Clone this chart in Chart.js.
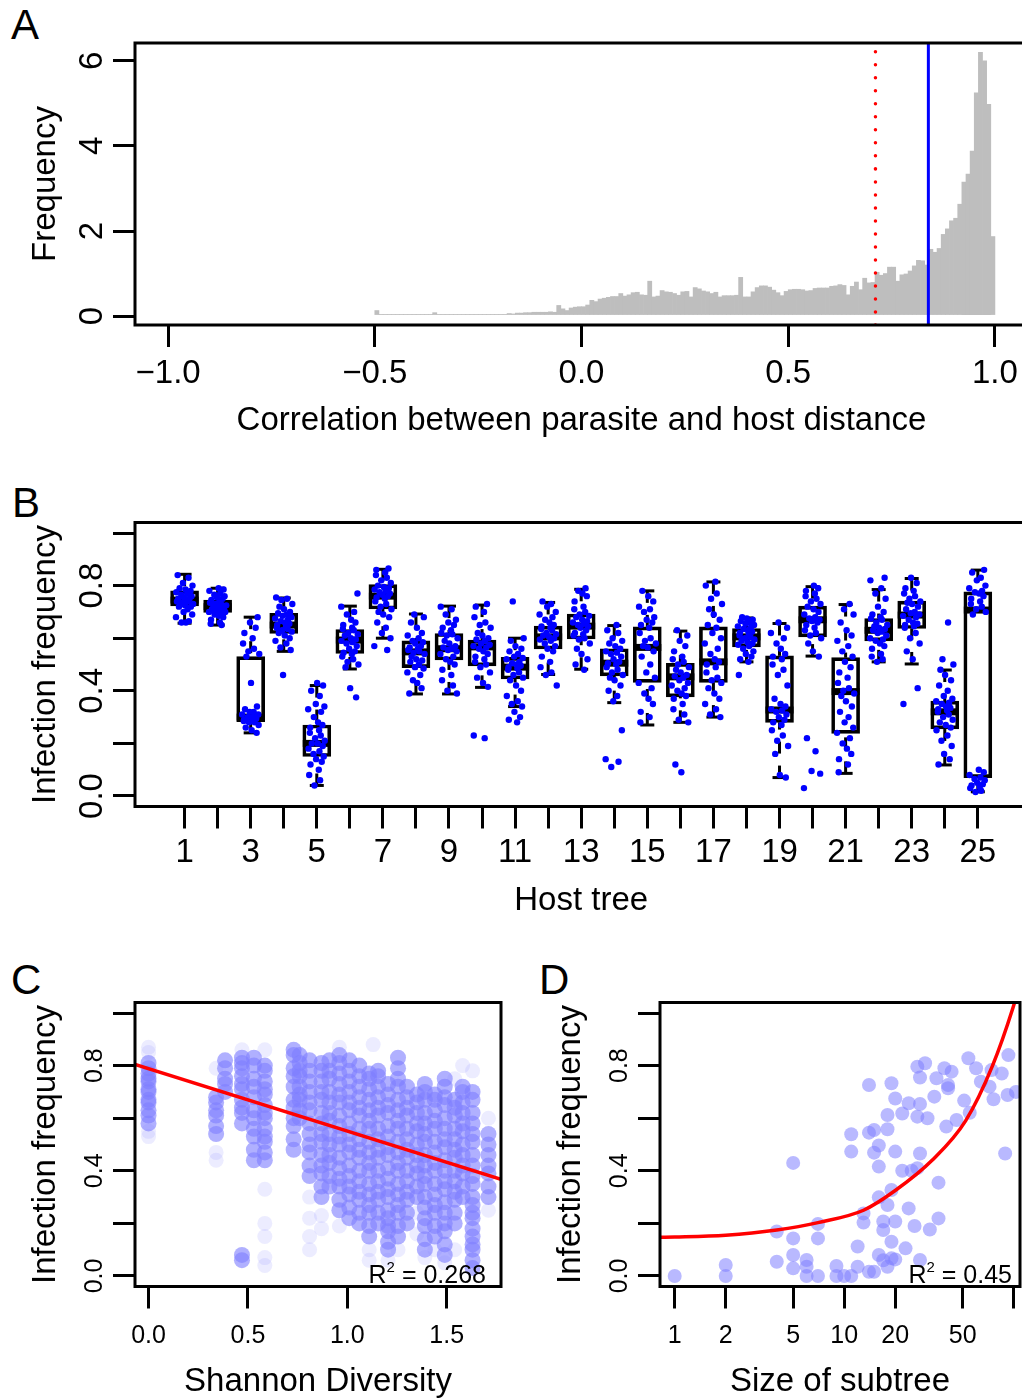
<!DOCTYPE html>
<html>
<head>
<meta charset="utf-8">
<script src="https://cdn.jsdelivr.net/npm/chart.js@4.4.1/dist/chart.umd.min.js"></script>
<style>
  html, body { margin: 0; padding: 0; background: #fff; }
  body { width: 1022px; height: 1399px; overflow: hidden; position: relative; font-family: "Liberation Sans", Arial, sans-serif; }
  canvas { position: absolute; }
  .tag { position: absolute; font-size: 42px; line-height: 1; color: #000; }
</style>
</head>
<body>
<div class="tag" style="left:11px;top:4px">A</div>
<div class="tag" style="left:12px;top:482px">B</div>
<div class="tag" style="left:11px;top:959px">C</div>
<div class="tag" style="left:539px;top:959px">D</div>

<canvas id="panelA" width="1060" height="450" style="left:0;top:0"></canvas>
<canvas id="panelB" width="1060" height="450" style="left:0;top:470px"></canvas>
<canvas id="panelC" width="520" height="459" style="left:0;top:940px"></canvas>
<canvas id="panelD" width="540" height="459" style="left:520px;top:940px"></canvas>

<script>
// ---- A: histogram of correlations (bins of 0.01 from -0.5 to 1.0) ----
const binStart = -0.5;
const binWidth = 0.01;
const corrFreq = [
  0.13,0.04,0.04,0.04,0.04,0.04,0.04,0.04,0.04,0.04,
  0.04,0.04,0.04,0.04,0.08,0.04,0.04,0.04,0.04,0.04,
  0.04,0.04,0.04,0.04,0.04,0.04,0.04,0.04,0.04,0.04,
  0.04,0.04,0.06,0.05,0.07,0.07,0.08,0.08,0.09,0.09,
  0.09,0.09,0.10,0.09,0.25,0.17,0.13,0.19,0.21,0.22,
  0.22,0.26,0.37,0.34,0.40,0.42,0.44,0.46,0.46,0.53,
  0.47,0.50,0.55,0.56,0.50,0.49,0.82,0.45,0.47,0.60,
  0.57,0.56,0.53,0.49,0.57,0.58,0.45,0.67,0.64,0.59,
  0.57,0.53,0.56,0.45,0.48,0.48,0.48,0.49,0.91,0.45,
  0.45,0.57,0.67,0.71,0.71,0.68,0.61,0.55,0.48,0.58,
  0.62,0.63,0.63,0.62,0.59,0.60,0.65,0.66,0.66,0.66,
  0.70,0.71,0.74,0.72,0.50,0.70,0.80,0.62,0.89,0.78,
  0.79,1.03,0.96,1.00,1.15,1.15,0.82,0.97,0.99,1.06,
  1.18,1.31,1.30,1.20,1.57,1.50,1.59,1.92,2.05,2.24,
  2.30,2.63,3.15,3.34,3.88,5.25,6.20,6.00,4.98,1.87
];
const nullCorr = 0.711;      // red dotted line
const observedCorr = 0.839;  // blue line
const corrTicks = [-1, -0.5, 0, 0.5, 1];
const freqTicks = [0, 2, 4, 6];

// ---- B: boxplots per host tree ----
const hostTrees = [1,2,3,4,5,6,7,8,9,10,11,12,13,14,15,16,17,18,19,20,21,22,23,24,25];
const whiskerLow  = [0.657,0.650,0.240,0.550,0.040,0.483,0.600,0.388,0.388,0.413,0.340,0.462,0.482,0.355,0.270,0.280,0.300,0.510,0.070,0.532,0.086,0.510,0.502,0.118,0.016];
const quart1      = [0.723,0.698,0.283,0.618,0.150,0.542,0.711,0.488,0.517,0.495,0.445,0.559,0.597,0.457,0.432,0.377,0.432,0.567,0.280,0.605,0.238,0.590,0.637,0.255,0.070];
const medianFreq  = [0.745,0.720,0.300,0.650,0.200,0.593,0.760,0.548,0.560,0.567,0.490,0.605,0.646,0.505,0.565,0.453,0.510,0.605,0.327,0.670,0.397,0.630,0.688,0.320,0.707];
const quart3      = [0.780,0.745,0.530,0.695,0.270,0.633,0.804,0.590,0.618,0.593,0.527,0.646,0.692,0.560,0.643,0.504,0.643,0.637,0.533,0.722,0.526,0.675,0.741,0.361,0.776];
const whiskerHigh = [0.843,0.790,0.680,0.753,0.420,0.722,0.862,0.692,0.722,0.726,0.600,0.736,0.786,0.648,0.780,0.627,0.814,0.677,0.656,0.796,0.728,0.785,0.827,0.479,0.859];
const infectionByTree = [
  [0.84,0.83,0.81,0.80,0.79,0.785,0.78,0.775,0.77,0.765,0.76,0.755,0.75,0.75,0.745,0.74,0.74,0.735,0.73,0.73,0.725,0.72,0.72,0.71,0.70,0.69,0.68,0.665,0.66,0.66],
  [0.79,0.785,0.78,0.77,0.765,0.76,0.755,0.75,0.745,0.74,0.735,0.73,0.73,0.725,0.72,0.72,0.715,0.71,0.71,0.705,0.70,0.70,0.695,0.69,0.685,0.68,0.67,0.66,0.655,0.65],
  [0.68,0.66,0.64,0.62,0.60,0.58,0.56,0.55,0.54,0.53,0.43,0.34,0.33,0.32,0.32,0.31,0.31,0.30,0.30,0.30,0.295,0.29,0.29,0.285,0.28,0.28,0.27,0.26,0.25,0.24],
  [0.755,0.75,0.745,0.73,0.72,0.71,0.70,0.695,0.69,0.685,0.68,0.675,0.67,0.665,0.66,0.655,0.65,0.645,0.64,0.635,0.63,0.625,0.62,0.61,0.60,0.59,0.58,0.565,0.555,0.46],
  [0.43,0.42,0.40,0.38,0.35,0.34,0.33,0.32,0.30,0.28,0.27,0.26,0.25,0.24,0.23,0.22,0.21,0.20,0.20,0.19,0.18,0.17,0.16,0.15,0.14,0.13,0.12,0.10,0.08,0.06,0.04],
  [0.77,0.72,0.70,0.69,0.67,0.66,0.65,0.64,0.635,0.63,0.62,0.615,0.61,0.60,0.595,0.59,0.585,0.58,0.57,0.56,0.55,0.545,0.54,0.53,0.52,0.51,0.50,0.49,0.41,0.375],
  [0.865,0.86,0.85,0.84,0.83,0.82,0.81,0.80,0.795,0.79,0.785,0.78,0.775,0.77,0.765,0.76,0.755,0.75,0.74,0.73,0.72,0.71,0.70,0.69,0.68,0.66,0.64,0.62,0.60,0.57,0.555],
  [0.69,0.68,0.66,0.64,0.62,0.61,0.60,0.59,0.585,0.58,0.57,0.565,0.56,0.555,0.55,0.545,0.54,0.53,0.52,0.515,0.51,0.50,0.49,0.485,0.47,0.46,0.44,0.43,0.41,0.39],
  [0.72,0.71,0.69,0.67,0.66,0.65,0.64,0.63,0.62,0.615,0.61,0.60,0.59,0.58,0.57,0.565,0.56,0.555,0.55,0.54,0.53,0.52,0.51,0.50,0.48,0.46,0.44,0.42,0.40,0.39],
  [0.73,0.72,0.70,0.68,0.66,0.65,0.64,0.62,0.61,0.60,0.595,0.59,0.58,0.575,0.57,0.565,0.56,0.55,0.54,0.53,0.52,0.51,0.50,0.49,0.47,0.45,0.43,0.415,0.23,0.22],
  [0.74,0.60,0.59,0.57,0.56,0.55,0.54,0.53,0.525,0.52,0.51,0.505,0.50,0.495,0.49,0.485,0.48,0.47,0.46,0.45,0.44,0.42,0.40,0.38,0.36,0.35,0.34,0.32,0.30,0.29,0.28],
  [0.74,0.73,0.72,0.70,0.69,0.68,0.67,0.66,0.65,0.645,0.64,0.635,0.63,0.62,0.615,0.61,0.605,0.60,0.595,0.59,0.58,0.57,0.56,0.55,0.53,0.51,0.49,0.47,0.46,0.42],
  [0.79,0.78,0.77,0.76,0.74,0.72,0.71,0.70,0.69,0.685,0.68,0.67,0.665,0.66,0.655,0.65,0.645,0.64,0.63,0.62,0.615,0.61,0.60,0.595,0.58,0.56,0.54,0.52,0.50,0.48],
  [0.65,0.63,0.62,0.60,0.59,0.58,0.57,0.56,0.55,0.545,0.54,0.53,0.52,0.51,0.505,0.50,0.49,0.48,0.47,0.46,0.45,0.44,0.42,0.40,0.38,0.36,0.25,0.14,0.13,0.11],
  [0.78,0.76,0.74,0.72,0.71,0.70,0.68,0.67,0.66,0.65,0.64,0.62,0.60,0.59,0.58,0.57,0.565,0.55,0.53,0.50,0.47,0.45,0.43,0.41,0.39,0.37,0.35,0.32,0.30,0.28],
  [0.63,0.61,0.59,0.57,0.55,0.53,0.52,0.51,0.50,0.49,0.48,0.47,0.46,0.455,0.45,0.44,0.43,0.42,0.41,0.40,0.39,0.38,0.37,0.35,0.33,0.31,0.29,0.28,0.12,0.09],
  [0.815,0.80,0.77,0.75,0.73,0.71,0.69,0.67,0.65,0.64,0.62,0.60,0.58,0.56,0.54,0.52,0.51,0.50,0.49,0.47,0.45,0.44,0.43,0.41,0.39,0.37,0.35,0.33,0.31,0.30],
  [0.68,0.675,0.67,0.665,0.66,0.655,0.65,0.645,0.64,0.635,0.63,0.625,0.62,0.615,0.61,0.605,0.60,0.595,0.59,0.585,0.58,0.575,0.57,0.56,0.55,0.54,0.53,0.52,0.51,0.46],
  [0.66,0.64,0.62,0.60,0.58,0.56,0.54,0.53,0.52,0.50,0.48,0.46,0.42,0.37,0.35,0.34,0.33,0.325,0.32,0.31,0.30,0.29,0.28,0.27,0.25,0.23,0.21,0.19,0.16,0.08,0.07],
  [0.80,0.79,0.78,0.77,0.76,0.75,0.74,0.73,0.72,0.71,0.70,0.69,0.68,0.675,0.67,0.665,0.66,0.65,0.64,0.63,0.62,0.61,0.60,0.58,0.55,0.53,0.22,0.17,0.095,0.085,0.03],
  [0.73,0.71,0.69,0.66,0.63,0.61,0.59,0.57,0.55,0.53,0.51,0.49,0.47,0.45,0.43,0.41,0.40,0.39,0.38,0.36,0.34,0.32,0.30,0.28,0.26,0.24,0.22,0.20,0.18,0.16,0.14,0.12,0.09],
  [0.83,0.82,0.79,0.77,0.75,0.72,0.70,0.69,0.68,0.675,0.67,0.66,0.65,0.645,0.64,0.635,0.63,0.625,0.62,0.61,0.60,0.595,0.59,0.58,0.57,0.56,0.54,0.53,0.52,0.51],
  [0.83,0.81,0.79,0.78,0.77,0.76,0.75,0.74,0.735,0.73,0.72,0.71,0.70,0.695,0.69,0.685,0.68,0.67,0.66,0.655,0.65,0.645,0.64,0.62,0.60,0.58,0.55,0.52,0.41,0.35],
  [0.66,0.52,0.50,0.48,0.46,0.44,0.42,0.40,0.38,0.37,0.36,0.355,0.35,0.34,0.335,0.33,0.325,0.32,0.31,0.30,0.29,0.28,0.27,0.26,0.25,0.23,0.21,0.19,0.16,0.14,0.12],
  [0.86,0.85,0.83,0.82,0.80,0.79,0.78,0.775,0.77,0.76,0.75,0.74,0.73,0.72,0.71,0.70,0.69,0.10,0.09,0.08,0.07,0.065,0.06,0.05,0.045,0.04,0.035,0.03,0.02,0.015]
];
// horizontal jitter of the points (position only)
const JITTER = [-0.21,0.12,-0.05,0.24,-0.15,0.03,0.18,-0.25,0.08,-0.10,0.21,-0.02,0.15,-0.19,0.06,-0.23,0.10,-0.07,0.26,-0.13,0.01,0.19,-0.17,0.09,-0.03,0.23,-0.26,0.13,-0.09,0.04,0.17,-0.20,0.07];
const freqTicksB = [0, 0.2, 0.4, 0.6, 0.8, 1.0];

// ---- C: infection frequency vs Shannon diversity ----
const shannonX = [0.00,0.34,0.385,0.47,0.53,0.585,0.73,0.76,0.81,0.87,0.91,0.96,1.01,1.06,1.11,1.155,1.205,1.255,1.30,1.35,1.39,1.44,1.49,1.54,1.58,1.63,1.71];
const shannonInfection = [
  [0.58,0.61,0.63,0.66,0.67,0.70,0.71,0.74,0.75,0.77,0.79,0.81],
  [0.54,0.57,0.61,0.63,0.66,0.68],
  [0.70,0.73,0.75,0.79,0.82],
  [0.58,0.62,0.64,0.67,0.71,0.73,0.76,0.79,0.81,0.83,0.06,0.08],
  [0.44,0.48,0.53,0.56,0.60,0.63,0.68,0.72,0.75,0.80,0.83],
  [0.44,0.47,0.51,0.53,0.56,0.60,0.62,0.65,0.69,0.71,0.74,0.78,0.80],
  [0.48,0.52,0.57,0.60,0.64,0.67,0.72,0.76,0.79,0.84,0.86],
  [0.60,0.63,0.67,0.69,0.72,0.76,0.78,0.81,0.84],
  [0.38,0.42,0.47,0.50,0.54,0.58,0.63,0.66,0.70,0.74,0.78,0.82],
  [0.30,0.34,0.39,0.42,0.46,0.51,0.54,0.58,0.62,0.67,0.70,0.74,0.78,0.81],
  [0.34,0.38,0.43,0.46,0.50,0.54,0.59,0.62,0.66,0.70,0.75,0.78,0.82],
  [0.25,0.29,0.34,0.37,0.41,0.45,0.50,0.53,0.57,0.61,0.66,0.69,0.73,0.77,0.81,0.84],
  [0.22,0.26,0.31,0.34,0.38,0.42,0.47,0.50,0.54,0.58,0.63,0.66,0.70,0.74,0.78,0.82],
  [0.20,0.24,0.29,0.32,0.36,0.40,0.45,0.48,0.52,0.56,0.61,0.64,0.68,0.72,0.76,0.80],
  [0.15,0.19,0.24,0.27,0.31,0.35,0.40,0.43,0.47,0.51,0.56,0.59,0.63,0.67,0.71,0.75,0.77],
  [0.20,0.24,0.29,0.32,0.36,0.40,0.45,0.48,0.52,0.56,0.61,0.64,0.68,0.72,0.76,0.78],
  [0.10,0.13,0.17,0.19,0.22,0.25,0.30,0.33,0.37,0.41,0.46,0.49,0.53,0.57,0.62,0.65,0.69,0.73],
  [0.15,0.19,0.24,0.27,0.31,0.35,0.40,0.43,0.47,0.51,0.56,0.59,0.63,0.67,0.72,0.75,0.79,0.83],
  [0.20,0.24,0.29,0.32,0.36,0.40,0.45,0.48,0.52,0.56,0.61,0.64,0.68,0.72],
  [0.30,0.34,0.39,0.42,0.46,0.50,0.55,0.58,0.62,0.66,0.69],
  [0.10,0.14,0.19,0.22,0.26,0.30,0.35,0.38,0.42,0.46,0.51,0.54,0.58,0.62,0.67,0.70,0.73],
  [0.15,0.19,0.24,0.27,0.31,0.35,0.40,0.43,0.47,0.51,0.56,0.59,0.63,0.67,0.69],
  [0.08,0.12,0.17,0.20,0.24,0.28,0.33,0.36,0.40,0.44,0.49,0.52,0.56,0.60,0.65,0.68,0.72,0.75],
  [0.20,0.24,0.29,0.32,0.36,0.40,0.45,0.48,0.52,0.56,0.61,0.64,0.67],
  [0.30,0.34,0.39,0.42,0.46,0.50,0.55,0.58,0.62,0.66,0.70,0.72],
  [0.03,0.06,0.10,0.12,0.15,0.18,0.22,0.24,0.27,0.30,0.35,0.38,0.42,0.46,0.51,0.54,0.58,0.62,0.67,0.70],
  [0.30,0.34,0.39,0.42,0.46,0.50,0.54]
];
// scattered faint points
const shannonFaintX = [0.00,0.00,0.00,0.00,0.34,0.34,0.34,0.47,0.585,0.585,0.585,0.585,0.585,0.585,0.81,0.81,0.81,0.81,0.87,0.87,0.96,0.96,1.11,1.11,1.13,1.205,1.255,1.35,1.35,1.39,1.44,1.49,1.54,1.54,1.58,1.63,1.71,1.71];
const shannonFaintY = [0.53,0.55,0.85,0.87,0.44,0.47,0.79,0.86,0.86,0.33,0.20,0.15,0.07,0.04,0.30,0.22,0.15,0.10,0.23,0.18,0.87,0.19,0.06,0.10,0.88,0.06,0.10,0.16,0.24,0.07,0.10,0.05,0.75,0.10,0.80,0.78,0.60,0.25];
const shannonFitX = [-0.068, 1.773];
const shannonFitY = [0.805, 0.368];

// ---- D: infection frequency vs size of subtree ----
const subtreeSize = [1,2,2,4,4,5,5,5,5,6,6,6,7,7,7,9,9,10,11,11,11,12,12,13,13,14,14,14,15,15,15,16,16,16,16,17,17,17,18,18,18,18,19,19,19,19,20,20,20,20,22,22,23,24,24,25,26,27,27,27,28,28,28,28,30,31,32,34,35,36,36,39,40,41,41,43,46,51,54,55,60,64,72,74,76,85,89,92,93,103];
const subtreeFreq = [0.0,0.042,0.0,0.054,0.169,0.43,0.143,0.08,0.029,0.061,0.035,0.0,0.198,0.143,0.0,0.038,0.0,0.0,0.539,0.473,0.0,0.112,0.035,0.238,0.203,0.726,0.545,0.016,0.555,0.469,0.016,0.496,0.416,0.299,0.08,0.207,0.175,0.06,0.27,0.558,0.035,0.612,0.733,0.327,0.13,0.067,0.473,0.675,0.207,0.063,0.40,0.618,0.105,0.657,0.257,0.40,0.19,0.796,0.606,0.41,0.755,0.061,0.466,0.654,0.809,0.60,0.177,0.682,0.752,0.355,0.219,0.79,0.568,0.714,0.726,0.777,0.593,0.667,0.828,0.621,0.79,0.739,0.72,0.783,0.672,0.77,0.466,0.688,0.84,0.70];
const subtreeFitX = [0.819,1,2,4,7,13,20,33,52,75,99,112];
const subtreeFitY = [0.147,0.148,0.155,0.175,0.203,0.25,0.325,0.44,0.59,0.80,1.02,1.14];
const sizeTicks = [1,2,5,10,20,50,100];
const freqTicksCD = [0, 0.2, 0.4, 0.6, 0.8, 1.0];

// ---------------------------------------------------------------
const FONT = '"Liberation Sans", Arial, sans-serif';
Chart.defaults.font.family = FONT;
Chart.defaults.color = '#000';
Chart.defaults.animation = false;
Chart.defaults.plugins.legend.display = false;
Chart.defaults.plugins.tooltip.enabled = false;

const setTicks = vals => scale => { scale.ticks = vals.map(v => ({ value: v })); };
const fixWidth = w => scale => { scale.width = w; };
const fixHeight = h => scale => { scale.height = h; };
const oneDec = v => v.toFixed(1).replace('-', '\u2212');
const tickGrid = { drawOnChartArea: false, drawTicks: true, tickLength: 22, color: '#000', lineWidth: 3, offset: false };

// R-style box round the plot region
const frame = {
  id: 'frame',
  afterDraw(chart) {
    const { ctx, chartArea: a } = chart;
    ctx.save();
    ctx.lineWidth = 3;
    ctx.strokeStyle = '#000';
    ctx.strokeRect(a.left, a.top, a.right - a.left, a.bottom - a.top);
    ctx.restore();
  }
};

function r2Label(value, inset) {
  return {
    id: 'r2',
    afterDatasetsDraw(chart) {
      const { ctx, chartArea: a } = chart;
      ctx.save();
      ctx.fillStyle = '#000';
      ctx.textBaseline = 'alphabetic';
      ctx.textAlign = 'left';
      const big = '25px ' + FONT, small = '15px ' + FONT;
      const tail = ' = ' + value;
      ctx.font = big;
      const wR = ctx.measureText('R').width, wT = ctx.measureText(tail).width;
      ctx.font = small;
      const w2 = ctx.measureText('2').width;
      const yb = a.bottom - 4;
      const x0 = a.right - inset - wT - w2 - wR;
      ctx.font = big;  ctx.fillText('R', x0, yb);
      ctx.font = small; ctx.fillText('2', x0 + wR, yb - 11);
      ctx.font = big;  ctx.fillText(tail, x0 + wR + w2, yb);
      ctx.restore();
    }
  };
}

// ---------------- Panel A ----------------
new Chart(document.getElementById('panelA'), {
  type: 'bar',
  data: {
    datasets: [
      { type: 'line', data: [{ x: nullCorr, y: -0.21 }, { x: nullCorr, y: 6.42 }], borderColor: '#ff0000', borderWidth: 3.5,
        borderDash: [0.01, 13], borderCapStyle: 'round', pointRadius: 0, order: 0 },
      { type: 'line', data: [{ x: observedCorr, y: -0.21 }, { x: observedCorr, y: 6.42 }], borderColor: '#0000ff', borderWidth: 3,
        pointRadius: 0, order: 0 },
      { type: 'bar', data: corrFreq.map((f, i) => ({ x: binStart + binWidth * (i + 0.5), y: f })), backgroundColor: '#bebebe',
        borderWidth: 0, barPercentage: 1, categoryPercentage: 1, order: 1 }
    ]
  },
  options: {
    responsive: false,
    layout: { padding: { top: 43, right: 32, left: 0, bottom: 0 }, autoPadding: false },
    scales: {
      x: {
        type: 'linear', min: -1.08, max: 1.08, offset: false,
        afterBuildTicks: setTicks(corrTicks), afterFit: fixHeight(125),
        grid: tickGrid, border: { display: false },
        ticks: { font: { size: 33 }, padding: 7, minRotation: 0, maxRotation: 0, autoSkip: false, callback: v => oneDec(v) },
        title: { display: true, text: 'Correlation between parasite and host distance', font: { size: 33 }, padding: { top: 0, bottom: 9 } }
      },
      y: {
        type: 'linear', min: -0.21, max: 6.42,
        afterBuildTicks: setTicks(freqTicks), afterFit: fixWidth(135),
        grid: tickGrid, border: { display: false },
        ticks: { font: { size: 33 }, padding: 11, minRotation: 90, maxRotation: 90, crossAlign: 'center', autoSkip: false, callback: v => String(v) },
        title: { display: true, text: 'Frequency', font: { size: 33 }, padding: { top: 26, bottom: 0 } }
      }
    }
  },
  plugins: [frame]
});

// ---------------- Panel B ----------------
const whiskers = {
  id: 'whiskers',
  afterDatasetDraw(chart, args) {
    if (args.index !== 1) return;
    const { ctx, scales: { x, y } } = chart;
    const seg = (x1, y1, x2, y2) => { ctx.beginPath(); ctx.moveTo(x1, y1); ctx.lineTo(x2, y2); ctx.stroke(); };
    ctx.save();
    ctx.strokeStyle = '#000';
    hostTrees.forEach((t, i) => {
      const px = x.getPixelForValue(t);
      const yLo = y.getPixelForValue(whiskerLow[i]), yQ1 = y.getPixelForValue(quart1[i]);
      const yQ3 = y.getPixelForValue(quart3[i]), yHi = y.getPixelForValue(whiskerHigh[i]);
      const yMed = y.getPixelForValue(medianFreq[i]);
      ctx.lineWidth = 3;
      ctx.setLineDash([12, 12]);
      seg(px, yLo, px, yQ1);
      seg(px, yHi, px, yQ3);
      ctx.setLineDash([]);
      seg(px - 7, yLo, px + 7, yLo);
      seg(px - 7, yHi, px + 7, yHi);
      ctx.lineWidth = 7;
      seg(px - 14, yMed, px + 14, yMed);
    });
    ctx.restore();
  }
};

const hostPoints = infectionByTree.flatMap((vals, g) =>
  vals.map((v, k) => ({ x: hostTrees[g] + JITTER[(k + g * 5) % JITTER.length], y: v })));

new Chart(document.getElementById('panelB'), {
  type: 'scatter',
  data: {
    datasets: [
      { type: 'scatter', data: hostPoints, pointRadius: 3.2, backgroundColor: '#0000ff', borderWidth: 0, order: 0 },
      { type: 'bar', data: hostTrees.map((t, i) => ({ x: t, y: [quart1[i], quart3[i]] })), backgroundColor: 'rgba(0,0,0,0)',
        borderColor: '#000', borderWidth: 3, borderSkipped: false, barThickness: 28, order: 1 }
    ]
  },
  options: {
    responsive: false,
    layout: { padding: { top: 52.5, right: 32.6, left: 0, bottom: 0 }, autoPadding: false },
    scales: {
      x: {
        type: 'linear', min: -0.5, max: 26.5, offset: false,
        afterBuildTicks: setTicks(hostTrees), afterFit: fixHeight(113.5),
        grid: tickGrid, border: { display: false },
        ticks: { font: { size: 33 }, padding: 5, minRotation: 0, maxRotation: 0, autoSkip: false, callback: v => (v % 2 === 1 ? String(v) : '') },
        title: { display: true, text: 'Host tree', font: { size: 33 }, padding: { top: 0, bottom: -1 } }
      },
      y: {
        type: 'linear', min: -0.04, max: 1.04,
        afterBuildTicks: setTicks(freqTicksB), afterFit: fixWidth(135),
        grid: tickGrid, border: { display: false },
        ticks: { font: { size: 33 }, padding: -3, minRotation: 90, maxRotation: 90, crossAlign: 'center', autoSkip: false,
          callback: v => ([0, 0.4, 0.8].some(t => Math.abs(t - v) < 1e-6) ? v.toFixed(1) : '') },
        title: { display: true, text: 'Infection frequency', font: { size: 33 }, padding: { top: 26, bottom: 0 } }
      }
    }
  },
  plugins: [frame, whiskers]
});

// ---------------- Panel C ----------------
const smallFreqAxis = (yTitlePad, labelPad) => ({
  type: 'linear', min: -0.04, max: 1.04,
  afterBuildTicks: setTicks(freqTicksCD),
  grid: tickGrid, border: { display: false },
  ticks: { font: { size: 25 }, padding: labelPad, minRotation: 90, maxRotation: 90, crossAlign: 'center', autoSkip: false,
    callback: v => ([0, 0.4, 0.8].some(t => Math.abs(t - v) < 1e-6) ? v.toFixed(1) : '') },
  title: { display: true, text: 'Infection frequency', font: { size: 33 }, padding: { top: yTitlePad, bottom: 0 } }
});

const shannonDense = shannonX.flatMap((sx, c) => shannonInfection[c].map(v => ({ x: sx, y: v })));
const shannonFaint = shannonFaintX.map((sx, i) => ({ x: sx, y: shannonFaintY[i] }));

new Chart(document.getElementById('panelC'), {
  type: 'scatter',
  data: {
    datasets: [
      { type: 'line', data: shannonFitX.map((v, i) => ({ x: v, y: shannonFitY[i] })), borderColor: '#ff0000', borderWidth: 3.5, pointRadius: 0, order: 0 },
      { data: shannonDense, pointRadius: 8, backgroundColor: 'rgba(128,128,255,0.62)', borderWidth: 0, order: 1 },
      { data: shannonFaint, pointRadius: 7.5, backgroundColor: 'rgba(128,128,255,0.15)', borderWidth: 0, order: 2 }
    ]
  },
  options: {
    responsive: false,
    layout: { padding: { top: 62.5, right: 19, left: 0, bottom: 0 }, autoPadding: false },
    scales: {
      x: {
        type: 'linear', min: -0.068, max: 1.773, offset: false,
        afterBuildTicks: setTicks([0, 0.5, 1, 1.5]), afterFit: fixHeight(112.5),
        grid: tickGrid, border: { display: false },
        ticks: { font: { size: 25 }, padding: 13, minRotation: 0, maxRotation: 0, autoSkip: false, callback: v => v.toFixed(1) },
        title: { display: true, text: 'Shannon Diversity', font: { size: 33 }, padding: { top: 0, bottom: -3 } }
      },
      y: Object.assign(smallFreqAxis(26, 1), { afterFit: fixWidth(135) })
    }
  },
  plugins: [frame, r2Label('0.268', 15)]
});

// ---------------- Panel D ----------------
new Chart(document.getElementById('panelD'), {
  type: 'scatter',
  data: {
    datasets: [
      { type: 'line', data: subtreeFitX.map((v, i) => ({ x: v, y: subtreeFitY[i] })), borderColor: '#ff0000', borderWidth: 3.5,
        pointRadius: 0, cubicInterpolationMode: 'monotone', order: 0 },
      { data: subtreeSize.map((s, i) => ({ x: s, y: subtreeFreq[i] })), pointRadius: 7, backgroundColor: 'rgba(128,128,255,0.55)', borderWidth: 0, order: 1 }
    ]
  },
  options: {
    responsive: false,
    layout: { padding: { top: 62.5, right: 40, left: 0, bottom: 0 }, autoPadding: false },
    scales: {
      x: {
        type: 'logarithmic', min: 0.819, max: 108.9, offset: false,
        afterBuildTicks: setTicks(sizeTicks), afterFit: fixHeight(112.5),
        grid: tickGrid, border: { display: false },
        ticks: { font: { size: 25 }, padding: 13, minRotation: 0, maxRotation: 0, autoSkip: false, callback: v => (v === 100 ? '' : String(v)) },
        title: { display: true, text: 'Size of subtree', font: { size: 33 }, padding: { top: 0, bottom: -3 } }
      },
      y: Object.assign(smallFreqAxis(31, 1), { afterFit: fixWidth(140) })
    }
  },
  plugins: [frame, r2Label('0.45', 8)]
});
</script>
</body>
</html>
